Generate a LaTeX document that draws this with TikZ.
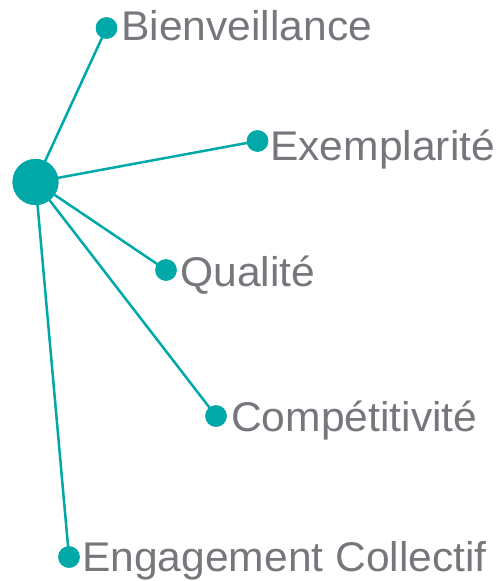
\documentclass[tikz,border=0pt]{standalone}
\usepackage{fontspec}
\setmainfont{Liberation Sans}
\definecolor{teal1}{RGB}{0,168,168}
\definecolor{txtgray}{RGB}{118,118,124}
\newcommand{\wide}[1]{\scalebox{1.026}[1]{#1}}
\begin{document}
\begin{tikzpicture}[x=1pt,y=-1pt,
  hub/.style={circle,fill=teal1,minimum size=46pt,inner sep=0pt},
  leaf/.style={circle,fill=teal1,minimum size=21.5pt,inner sep=0pt},
  lbl/.style={anchor=base west,inner sep=0pt,text=txtgray,font=\fontsize{41.5}{46}\selectfont},
  conn/.style={draw=teal1,line width=2.5pt}]
\useasboundingbox (0,0) rectangle (499,581);
\node[hub] (c) at (35.5,182) {};
\node[leaf] (b) at (106.5,28) {};
\node[leaf] (e) at (257.5,141) {};
\node[leaf] (q) at (166,270) {};
\node[leaf] (p) at (216,416) {};
\node[leaf] (g) at (69,557) {};
\foreach \n in {b,e,q,p,g} \draw[conn] (c.center) -- (\n.center);
\node[hub] at (c) {};
\foreach \n in {b,e,q,p,g} \node[leaf] at (\n) {};
\node[lbl] (tb) at (121,40) {\wide{Bienveillance}};
\node[lbl] (te) at (270,160) {\wide{Exemplarité}};
\node[lbl] (tq) at (180,286) {\wide{Qualité}};
\node[lbl] (tp) at (231,431) {\wide{Compétitivité}};
\node[lbl] (tg) at (82,571.5) {\wide{Engagement Collectif}};
\end{tikzpicture}
\end{document}
